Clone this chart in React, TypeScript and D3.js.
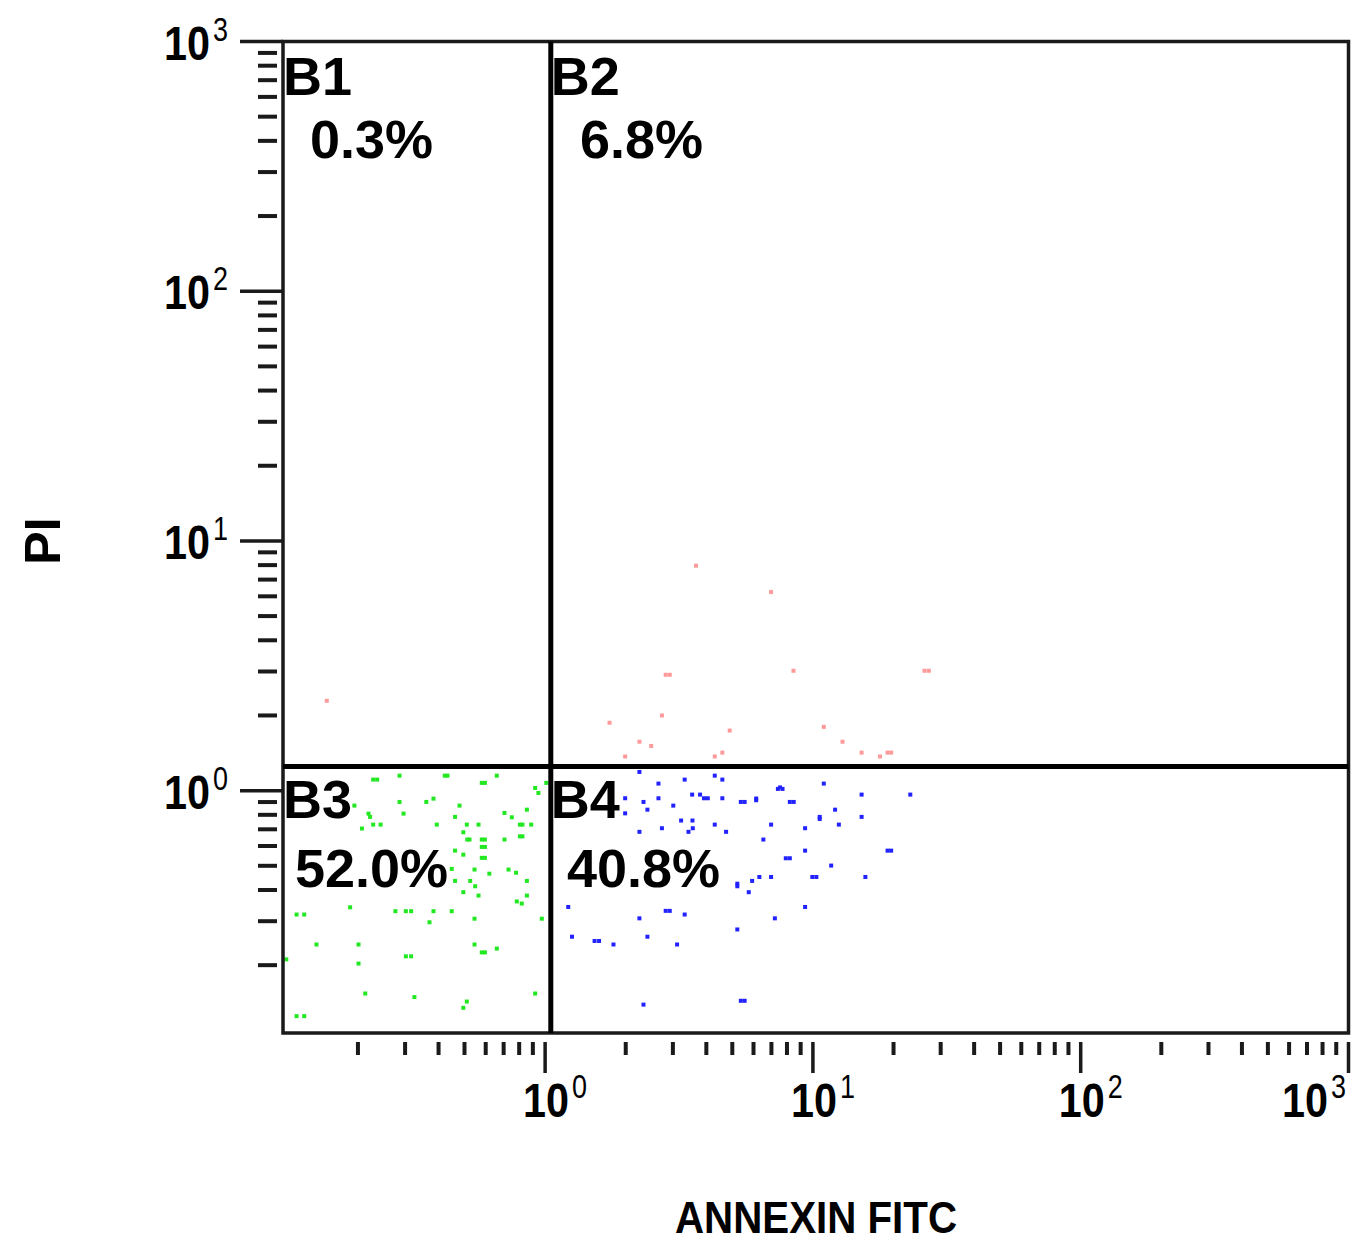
import React from 'react';
import * as d3 from 'd3';

// ---- data ----
const xDomain: [number, number] = [0.105, 1000];
const yDomain: [number, number] = [0.107, 1000];
const gateX = 1.05;
const gateY = 1.25;
const decadeExponents = ['0', '1', '2', '3'];
const xTitle = 'ANNEXIN FITC';
const yTitle = 'PI';
const quadNames = ['B1', 'B2', 'B3', 'B4'];
const quadPercents = ['0.3%', '6.8%', '52.0%', '40.8%'];

const b1Points: [number, number][] = [[0.153, 2.29]];

const b2Points: [number, number][] = [
  [3.66, 7.96], [6.98, 6.24], [2.82, 2.91], [2.92, 2.91], [8.46, 3.02], [26.1, 3.02], [27.1, 3.02],
  [1.74, 1.87], [2.73, 2.0], [4.89, 1.74], [10.98, 1.8], [2.25, 1.57], [2.49, 1.51], [12.9, 1.57],
  [1.99, 1.37], [4.3, 1.37], [4.59, 1.42], [15.2, 1.42], [17.8, 1.37], [19.0, 1.42], [19.6, 1.42],
];

const b3Points: [number, number][] = [
  [0.228, 1.107], [0.236, 1.107], [0.286, 1.148], [0.422, 1.148], [0.432, 1.148], [0.66, 1.148],
  [0.58, 1.074], [0.596, 1.074], [0.918, 1.025], [0.944, 0.979], [1.01, 1.074], [0.194, 0.871],
  [0.286, 0.901], [0.36, 0.901], [0.383, 0.929], [0.479, 0.871], [0.219, 0.809], [0.222, 0.785],
  [0.296, 0.809], [0.228, 0.731], [0.243, 0.731], [0.207, 0.705], [0.394, 0.731], [0.461, 0.785],
  [0.51, 0.731], [0.564, 0.731], [0.705, 0.814], [0.751, 0.782], [0.855, 0.839], [0.805, 0.731],
  [0.823, 0.731], [0.887, 0.731], [0.495, 0.681], [0.512, 0.637], [0.522, 0.637], [0.58, 0.637],
  [0.596, 0.637], [0.58, 0.595], [0.596, 0.595], [0.705, 0.637], [0.805, 0.656], [0.823, 0.656],
  [0.461, 0.575], [0.495, 0.554], [0.58, 0.538], [0.596, 0.538], [0.448, 0.486], [0.545, 0.483],
  [0.619, 0.465], [0.73, 0.483], [0.779, 0.469], [0.461, 0.435], [0.525, 0.435], [0.548, 0.414],
  [0.495, 0.392], [0.564, 0.38], [0.855, 0.435], [0.855, 0.38], [0.784, 0.36], [0.818, 0.353],
  [0.118, 0.319], [0.126, 0.319], [0.187, 0.341], [0.276, 0.329], [0.302, 0.329], [0.316, 0.329],
  [0.383, 0.329], [0.448, 0.329], [0.37, 0.297], [0.545, 0.307], [0.972, 0.307], [0.14, 0.242],
  [0.201, 0.242], [0.201, 0.203], [0.302, 0.217], [0.316, 0.217], [0.545, 0.242], [0.58, 0.225],
  [0.596, 0.225], [0.66, 0.233], [0.108, 0.211], [0.213, 0.154], [0.325, 0.149], [0.51, 0.143],
  [0.495, 0.135], [0.918, 0.154], [0.118, 0.125], [0.126, 0.125],
];

const b4Points: [number, number][] = [
  [2.25, 1.188], [2.65, 1.067], [3.32, 1.107], [4.3, 1.148], [4.59, 1.107], [7.4, 1.016], [7.7, 1.016],
  [7.54, 1.03], [10.98, 1.067], [1.99, 0.932], [2.33, 0.901], [2.65, 0.932], [3.54, 0.964], [3.79, 0.964],
  [3.92, 0.932], [4.05, 0.932], [4.59, 0.932], [5.38, 0.901], [5.56, 0.901], [6.14, 0.915], [6.14, 0.93],
  [8.2, 0.901], [8.48, 0.901], [15.2, 0.964], [23.1, 0.964], [1.99, 0.811], [2.41, 0.839], [3.01, 0.871],
  [12.1, 0.839], [10.6, 0.77], [10.6, 0.785], [15.2, 0.785], [3.22, 0.759], [3.55, 0.759], [2.25, 0.684],
  [2.73, 0.707], [3.43, 0.684], [3.56, 0.707], [4.3, 0.731], [4.74, 0.684], [6.98, 0.731], [9.35, 0.707],
  [12.5, 0.731], [6.53, 0.637], [9.35, 0.575], [7.92, 0.536], [8.2, 0.536], [19.0, 0.575], [19.6, 0.575],
  [11.7, 0.501], [6.31, 0.451], [6.98, 0.451], [9.95, 0.451], [10.3, 0.451], [15.7, 0.451], [5.93, 0.435],
  [5.22, 0.414], [5.22, 0.424], [5.76, 0.392], [1.22, 0.342], [2.82, 0.33], [2.92, 0.33], [3.32, 0.319],
  [2.25, 0.308], [7.21, 0.308], [9.35, 0.342], [5.22, 0.278], [1.26, 0.26], [1.53, 0.25], [1.59, 0.25],
  [1.8, 0.242], [2.41, 0.26], [3.11, 0.242], [2.33, 0.139], [5.38, 0.144], [5.56, 0.144],
];

// ---- layout ----
const W = 1353;
const H = 1242;
const L = 283;
const R = 1348.5;
const T = 41.5;
const B = 1033;
const FONT = '"Liberation Sans", Arial, Helvetica, sans-serif';

function PowerLabel({ x, y, exp }: { x: number; y: number; exp: string }) {
  return (
    <text x={x} y={y} style={{ fontFamily: FONT, fontWeight: 700, fontSize: 48 }}>
      <tspan textLength={46} lengthAdjust="spacingAndGlyphs">10</tspan>
      <tspan dx={3} dy={-19} textLength={15} lengthAdjust="spacingAndGlyphs"
        style={{ fontWeight: 400, fontSize: 34 }}>{exp}</tspan>
    </text>
  );
}

export default function App() {
  const x = d3.scaleLog().domain(xDomain).range([L, R]);
  const y = d3.scaleLog().domain(yDomain).range([B, T]);
  const isMajor = (v: number) => Math.abs(Math.log10(v) - Math.round(Math.log10(v))) < 1e-6;
  const xt = x.ticks();
  const yt = y.ticks();
  const majors = [1, 10, 100, 1000];
  const gx = x(gateX);
  const gy = y(gateY);

  const dots = (pts: [number, number][], color: string, key: string) =>
    pts.map((p, i) => (
      <rect key={key + i} x={x(p[0]) - 2} y={y(p[1]) - 2} width={4} height={4} fill={color} />
    ));

  const bigText = { fontFamily: FONT, fontWeight: 700, fontSize: 54, fill: '#000' } as const;

  return (
    <svg width={W} height={H} style={{ position: 'absolute', left: 0, top: 0, background: '#fff' }}>
      <rect x={0} y={0} width={W} height={H} fill="#fff" />
      {/* dots */}
      {dots(b3Points, '#22e822', 'g')}
      {dots(b4Points, '#2222ff', 'b')}
      {dots(b2Points, '#ff9a9a', 'r')}
      {dots(b1Points, '#ff9a9a', 'r1')}

      {/* frame */}
      <rect x={L} y={T} width={R - L} height={B - T} fill="none" stroke="#1a1a1a" strokeWidth={3.5} />

      {/* gate lines */}
      <line x1={gx} x2={gx} y1={T} y2={B} stroke="#000" strokeWidth={5} />
      <line x1={L} x2={R} y1={gy} y2={gy} stroke="#000" strokeWidth={5} />

      {/* y ticks */}
      {yt.map((v, i) =>
        isMajor(v) ? (
          <line key={'ym' + i} x1={240} x2={L} y1={y(v)} y2={y(v)} stroke="#1a1a1a" strokeWidth={3.5} />
        ) : (
          <line key={'yn' + i} x1={258} x2={277} y1={y(v)} y2={y(v)} stroke="#1a1a1a" strokeWidth={4} />
        )
      )}
      {/* x ticks */}
      {xt.map((v, i) =>
        isMajor(v) ? (
          <line key={'xm' + i} x1={x(v)} x2={x(v)} y1={1042} y2={1073} stroke="#1a1a1a" strokeWidth={3.5} />
        ) : (
          <line key={'xn' + i} x1={x(v)} x2={x(v)} y1={1042} y2={1055} stroke="#1a1a1a" strokeWidth={4} />
        )
      )}

      {/* y tick labels */}
      {majors.map((v, i) => (
        <PowerLabel key={'yl' + i} x={164} y={y(v) + 18} exp={decadeExponents[i]} />
      ))}
      {/* x tick labels */}
      {majors.map((v, i) => (
        <PowerLabel key={'xl' + i} x={Math.min(x(v) - 22, 1282)} y={1117} exp={decadeExponents[i]} />
      ))}

      {/* quadrant labels */}
      <text x={L} y={95} style={bigText}>{quadNames[0]}</text>
      <text x={gx} y={95} style={bigText}>{quadNames[1]}</text>
      <text x={L} y={818} style={bigText}>{quadNames[2]}</text>
      <text x={gx} y={818} style={bigText}>{quadNames[3]}</text>
      <text x={310} y={158} style={bigText}>{quadPercents[0]}</text>
      <text x={580} y={158} style={bigText}>{quadPercents[1]}</text>
      <text x={295} y={887} style={bigText}>{quadPercents[2]}</text>
      <text x={567} y={887} style={bigText}>{quadPercents[3]}</text>

      {/* axis titles */}
      <text x={816} y={1233} textAnchor="middle" textLength={282} lengthAdjust="spacingAndGlyphs"
        style={{ fontFamily: FONT, fontWeight: 700, fontSize: 44 }}>{xTitle}</text>
      <text transform="translate(60,541) rotate(-90)" textAnchor="middle"
        style={{ fontFamily: FONT, fontWeight: 700, fontSize: 50 }}>{yTitle}</text>
    </svg>
  );
}
